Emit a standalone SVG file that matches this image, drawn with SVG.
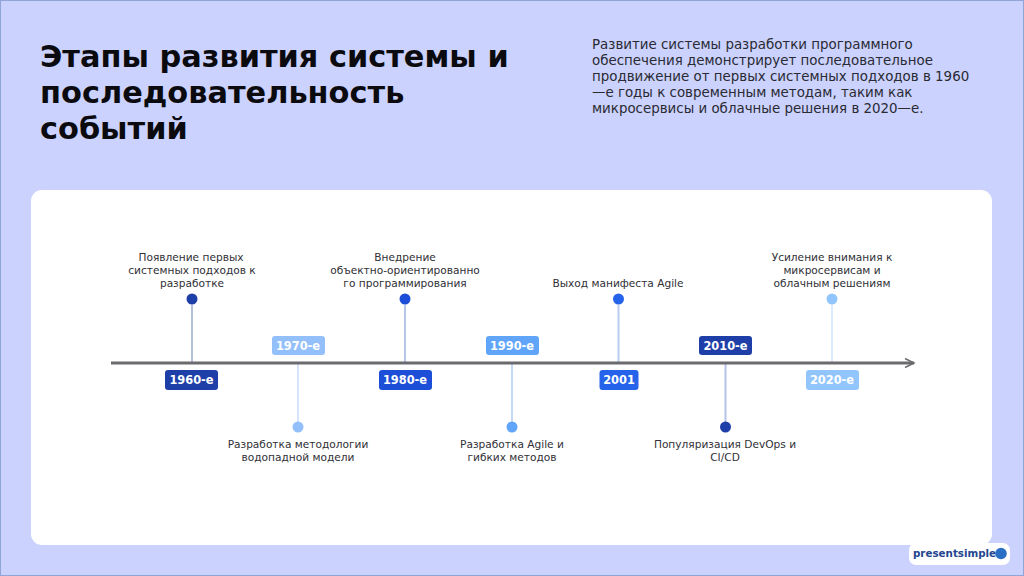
<svg xmlns="http://www.w3.org/2000/svg" width="1024" height="576" viewBox="0 0 1024 576">
<style>
text{font-family:"DejaVu Sans",sans-serif}
.t{font-size:30.4px;font-weight:700;fill:#0b0b0f}
.d{font-size:13.4px;fill:#2a2a33}
.l{font-size:10.6px;fill:#303036;text-anchor:middle}
.b{font-size:11.4px;font-weight:700;fill:#fff;text-anchor:middle}
.s{stroke-width:2;fill:none}
</style>
<defs><marker id="a" markerUnits="userSpaceOnUse" markerWidth="14" markerHeight="14" refX="10" refY="6" orient="auto"><path d="M1 1.500L10 6L1 10.500" fill="none" stroke="#6b6b6f" stroke-width="1.500"/></marker></defs>
<rect width="1024" height="576" fill="#cbd2fe"/>
<rect x="0.500" y="0.500" width="1023" height="575" fill="none" stroke="#8fa5d8"/>
<text class="t" x="40" y="67">Этапы развития системы и</text>
<text class="t" x="40" y="103">последовательность</text>
<text class="t" x="40" y="139">событий</text>
<text class="d" x="592" y="49">Развитие системы разработки программного</text>
<text class="d" x="592" y="65">обеспечения демонстрирует последовательное</text>
<text class="d" x="592" y="81">продвижение от первых системных подходов в 1960</text>
<text class="d" x="592" y="97">—е годы к современным методам, таким как</text>
<text class="d" x="592" y="113">микросервисы и облачные решения в 2020—е.</text>
<rect x="31" y="190" width="961" height="355" rx="11" fill="#fff"/>
<g id="connectors">
<path class="s" d="M192 305V362" stroke="#b4bfdc"/>
<path class="s" d="M298 363V427" stroke="#d6e4fb"/>
<path class="s" d="M405 305V362" stroke="#b7c5e6"/>
<path class="s" d="M512 363V427" stroke="#c5d9f8"/>
<path class="s" d="M618.500 305V362" stroke="#b9cdf0"/>
<path class="s" d="M725.500 363V427" stroke="#b5c3e4"/>
<path class="s" d="M832 305V362" stroke="#dde9fd"/>
<path d="M111 363H914" stroke="#6b6b6f" stroke-width="3" fill="none" marker-end="url(#a)"/>
</g>
<g id="n1960"><circle cx="192" cy="299" r="5.500" fill="#1e3fa8"/><rect x="165" y="370" width="53" height="20" rx="3" fill="#1e3fa8"/><text class="b" x="191.500" y="384">1960-е</text>
<text class="l" x="191" y="261">Появление первых</text><text class="l" x="192" y="274">системных подходов к</text><text class="l" x="192" y="287">разработке</text></g>
<g id="n1970"><circle cx="298" cy="427" r="5.500" fill="#93c0fb"/><rect x="272" y="336" width="53" height="19" rx="3" fill="#93c0fb"/><text class="b" x="298" y="350">1970-е</text>
<text class="l" x="298" y="448">Разработка методологии</text><text class="l" x="298" y="461">водопадной модели</text></g>
<g id="n1980"><circle cx="405" cy="299" r="5.500" fill="#1d4ed8"/><rect x="379" y="370" width="53" height="20" rx="3" fill="#1d4ed8"/><text class="b" x="405" y="384">1980-е</text>
<text class="l" x="405" y="261">Внедрение</text><text class="l" x="405" y="274">объектно-ориентированно</text><text class="l" x="405" y="287">го программирования</text></g>
<g id="n1990"><circle cx="512" cy="427" r="5.500" fill="#60a5fa"/><rect x="486" y="336" width="53" height="19" rx="3" fill="#60a5fa"/><text class="b" x="512" y="350">1990-е</text>
<text class="l" x="512" y="448">Разработка Agile и</text><text class="l" x="512" y="461">гибких методов</text></g>
<g id="n2001"><circle cx="618.500" cy="299" r="5.500" fill="#2563eb"/><rect x="599.500" y="370" width="39" height="20" rx="3" fill="#2563eb"/><text class="b" x="619" y="384">2001</text>
<text class="l" x="618" y="287">Выход манифеста Agile</text></g>
<g id="n2010"><circle cx="725.500" cy="427" r="5.500" fill="#1e3fa8"/><rect x="699" y="336" width="53" height="19" rx="3" fill="#1e3fa8"/><text class="b" x="725.500" y="350">2010-е</text>
<text class="l" x="725" y="448">Популяризация DevOps и</text><text class="l" x="725" y="461">CI/CD</text></g>
<g id="n2020"><circle cx="832" cy="299" r="5.500" fill="#93c5fd"/><rect x="806" y="370" width="53" height="20" rx="3" fill="#93c5fd"/><text class="b" x="832" y="384">2020-е</text>
<text class="l" x="832" y="261">Усиление внимания к</text><text class="l" x="832" y="274">микросервисам и</text><text class="l" x="832" y="287">облачным решениям</text></g>
<g id="logo"><rect x="909" y="543" width="101" height="22" rx="7" fill="#fff"/><text x="913" y="557" font-size="10.300" font-weight="700" fill="#24468f">presentsimple</text><circle cx="1001" cy="553.500" r="5.800" fill="#2a6fc4"/></g>
</svg>
